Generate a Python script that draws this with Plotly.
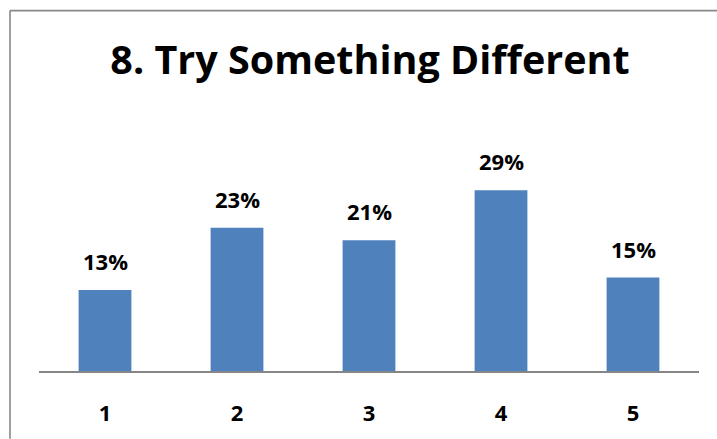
import plotly.graph_objects as go

categories = ["1", "2", "3", "4", "5"]
values = [0.13, 0.23, 0.21, 0.29, 0.15]
labels = ["13%", "23%", "21%", "29%", "15%"]
title_text = "8. Try Something Different"

W, H = 717, 439
ml, mr, mt, mb = 39, 18, 153, 64
pw = W - ml - mr
ph = H - mt - mb

def px_x(p):
    return (p - ml) / pw

def px_y(p):
    return (H - mb - p) / ph

FONT = "Open Sans"

fig = go.Figure()
fig.add_trace(go.Bar(
    x=categories, y=values,
    marker=dict(color="#4F81BD", line=dict(width=0)),
    hoverinfo="skip",
))

for i, (v, t) in enumerate(zip(values, labels)):
    fig.add_annotation(x=i, y=v, text="<b>%s</b>" % t, showarrow=False,
                       yanchor="bottom", yshift=12,
                       font=dict(family=FONT, size=22, color="#000000"))

border = "#888888"
fig.add_shape(type="line", xref="paper", yref="paper",
              x0=px_x(10), x1=px_x(W + 5), y0=px_y(8), y1=px_y(8),
              line=dict(color=border, width=1.6))
fig.add_shape(type="line", xref="paper", yref="paper",
              x0=px_x(10), x1=px_x(10), y0=px_y(8), y1=px_y(H + 5),
              line=dict(color=border, width=1.6))

fig.update_layout(
    width=W, height=H,
    margin=dict(l=ml, r=mr, t=mt, b=mb, pad=0),
    paper_bgcolor="white", plot_bgcolor="white",
    bargap=0.6,
    showlegend=False,
    title=dict(text="<b>%s</b>" % title_text, x=370 / W,
               xanchor="center", xref="container",
               y=1 - 60 / H, yanchor="middle", yref="container",
               font=dict(family=FONT, size=39.5, color="#000000")),
    xaxis=dict(type="category", range=[-0.5, 4.5],
               showline=True, linecolor="#868686", linewidth=1.6,
               showgrid=False, zeroline=False,
               ticks="outside", ticklen=22, tickcolor="rgba(0,0,0,0)",
               tickfont=dict(family=FONT, size=22, color="#000000"),
               tickprefix="<b>", ticksuffix="</b>"),
    yaxis=dict(range=[0, 0.35], visible=False, showgrid=False, zeroline=False),
)

fig.write_html("out.html", config={"displayModeBar": False},
               post_script="document.body.style.margin='0';")
